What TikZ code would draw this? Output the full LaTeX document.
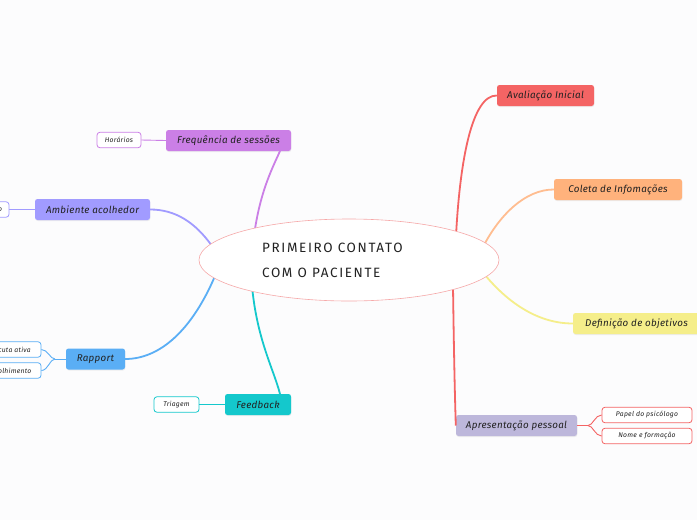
\documentclass[tikz,border=0pt]{standalone}
\usepackage{fontspec}
\setmainfont{Fira Sans}
\usetikzlibrary{shapes.geometric,shadows}
\definecolor{txt}{HTML}{222222}
\definecolor{cav}{HTML}{F46464}
\definecolor{cco}{HTML}{FFB27C}
\definecolor{cde}{HTML}{F5EE8A}
\definecolor{cap}{HTML}{BDB7DB}
\definecolor{cfr}{HTML}{CB7FE6}
\definecolor{cam}{HTML}{A19BFF}
\definecolor{cra}{HTML}{5AAEF5}
\definecolor{cfb}{HTML}{14C8CC}
\definecolor{cel}{HTML}{F6A8A8}
\definecolor{bg}{HTML}{FCFCFD}
\tikzset{
  topic/.style={rounded corners=2.5pt, minimum height=21pt, inner sep=0pt, text=txt,
    font=\itshape\fontsize{9.8}{11}\selectfont\addfontfeatures{LetterSpace=3},
    drop shadow={opacity=0.12, shadow xshift=0.4pt, shadow yshift=-1pt}},
  subtopic/.style={draw, rounded corners=3pt, fill=white, minimum height=15.5pt, inner sep=0pt,
    line width=0.8pt, text=txt, font=\itshape\fontsize{6.8}{8}\selectfont\addfontfeatures{LetterSpace=4}},
  link/.style={line width=1.8pt},
  sublink/.style={line width=0.9pt}
}
\begin{document}
\begin{tikzpicture}[x=1pt,y=-1pt]
\useasboundingbox (0,0) rectangle (697,520);
\fill[bg] (0,0) rectangle (697,520);
\begin{scope}
\clip (0,0) rectangle (697,520);
% topic boxes
\node[topic, fill=cav, minimum width=97pt]  (av) at (545.5,95.5) {Avaliação Inicial};
\node[topic, fill=cco, minimum width=128pt] (co) at (618,189.5) {Coleta de Infomações};
\node[topic, fill=cde, minimum width=127pt] (de) at (636.5,323.5) {Definição de objetivos};
\node[topic, fill=cap, minimum width=121pt] (ap) at (516.5,425.5) {Apresentação pessoal};
\node[topic, fill=cfr, minimum width=125pt] (fr) at (228.5,140.5) {Frequência de sessões};
\node[topic, fill=cam, minimum width=115pt] (am) at (92.5,209.5) {Ambiente acolhedor};
\node[topic, fill=cra, minimum width=59pt]  (ra) at (95.5,359) {Rapport};
\node[topic, fill=cfb, minimum width=66pt]  (fb) at (258,404.5) {Feedback};
% subtopics
\node[subtopic, draw=cfr, minimum width=44pt] (ho) at (119,140) {Horários};
\node[subtopic, draw=cam, minimum width=42pt] (cf) at (-12,209.5) {Conforto};
\node[subtopic, draw=cra, minimum width=60pt] (es) at (11,349.5) {Escuta ativa};
\node[subtopic, draw=cra, minimum width=60pt] (ac) at (11,370.5) {Acolhimento};
\node[subtopic, draw=cfb, minimum width=45pt] (tr) at (176.5,404.5) {Triagem};
\node[subtopic, draw=cav, minimum width=90pt] (pp) at (647,415) {Papel do psicólogo};
\node[subtopic, draw=cav, minimum width=90pt] (nf) at (647,436) {Nome e formação};
% start points of main connectors
\coordinate (sav) at (456,236);
\coordinate (sap) at (453,286);
\coordinate (sco) at (484,245);
\coordinate (sde) at (485,275);
\coordinate (sfr) at (254,236);
\coordinate (sam) at (212,246);
\coordinate (sra) at (215,276);
\coordinate (sfb) at (252,286);
% main connectors
\draw[link, cav] (sav) .. controls (460,160) and (472,95) .. (av.west);
\draw[link, cav] (sap) .. controls (454,360) and (455,400) .. (ap.west);
\draw[link, cco!85] (sco) .. controls (500,215) and (525,189.5) .. (co.west);
\draw[link, cde] (sde) .. controls (510,305) and (540,323.5) .. (de.west);
\draw[link, cfr] (sfr) .. controls (260,190) and (274,165) .. (280,151);
\draw[link, cam] (sam) .. controls (195,222) and (175,209.5) .. (am.east);
\draw[link, cra] (sra) .. controls (192,330) and (160,359) .. (ra.east);
\draw[link, cfb] (sfb) .. controls (257,340) and (274,370) .. (280,394);
% central topic
\node[ellipse, draw=cel, fill=white, line width=0.6pt, minimum width=300pt, minimum height=82pt] (ctr) at (349,260) {};
\node[anchor=west, align=left, text=txt, inner sep=0pt,
      font=\fontsize{13.5}{25}\selectfont\addfontfeatures{LetterSpace=12}] (ctrt) at (262,260)
      {PRIMEIRO CONTATO\\COM O PACIENTE};
% sub connectors
\draw[sublink, cfr] (ho.east) -- (fr.west);
\draw[sublink, cam] (cf.east) -- (am.west);
\draw[sublink, cfb] (tr.east) -- (fb.west);
\coordinate (rf) at (55,359);
\draw[sublink, cra] (ra.west) -- (rf);
\draw[sublink, cra] (rf) .. controls (50,359) and (48,349.5) .. (es.east);
\draw[sublink, cra] (rf) .. controls (50,359) and (48,370.5) .. (ac.east);
\coordinate (af) at (588,425.5);
\draw[sublink, cav] (ap.east) -- (af);
\draw[sublink, cav] (af) .. controls (593,425.5) and (595,415) .. (pp.west);
\draw[sublink, cav] (af) .. controls (593,425.5) and (595,436) .. (nf.west);
\end{scope}
\end{tikzpicture}
\end{document}
